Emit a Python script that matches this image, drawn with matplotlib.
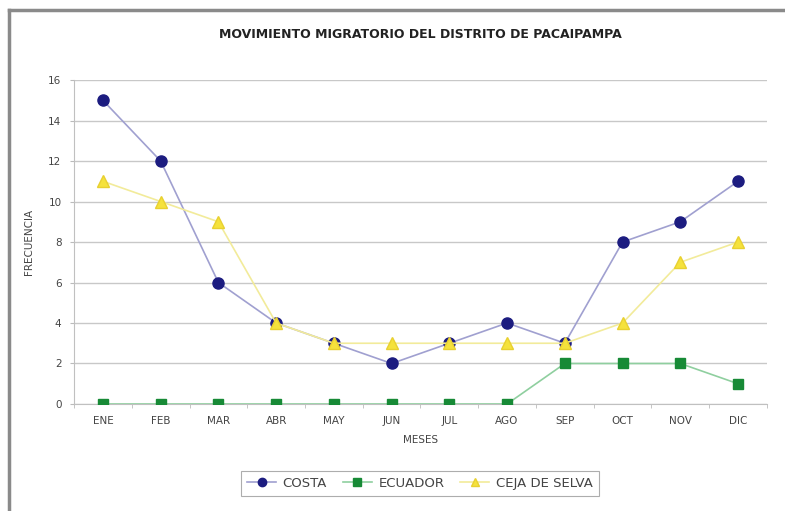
import matplotlib.pyplot as plt
from matplotlib.lines import Line2D

# ----------------------------------- DATA ----------------------------------- #
meses = ["ENE", "FEB", "MAR", "ABR", "MAY", "JUN", "JUL", "AGO", "SEP", "OCT", "NOV", "DIC"]
costa = [15, 12, 6, 4, 3, 2, 3, 4, 3, 8, 9, 11]
ecuador = [0, 0, 0, 0, 0, 0, 0, 0, 2, 2, 2, 1]
ceja_selva = [11, 10, 9, 4, 3, 3, 3, 3, 3, 4, 7, 8]

# --------------------------------- PLOTTING --------------------------------- #
fig = plt.figure(figsize=(7.85, 5.11), dpi=100)
ax = fig.add_axes([0.0943, 0.2094, 0.8827, 0.634])

x = list(range(len(meses)))
ax.plot(x, costa, color="#a0a0d0", lw=1.2, marker="o", ms=8,
        mfc="#1c1c80", mec="#1c1c80", label="COSTA", zorder=3)
ax.plot(x, ecuador, color="#8fcf9f", lw=1.2, marker="s", ms=7.5,
        mfc="#178a36", mec="#178a36", label="ECUADOR", zorder=3)
ax.plot(x, ceja_selva, color="#f2eb9a", lw=1.2, marker="^", ms=8.5,
        mfc="#f5e23c", mec="#e8d030", label="CEJA DE SELVA", zorder=4)

ax.set_xlim(-0.5, len(meses) - 0.5)
ax.set_ylim(0, 16)
ax.set_yticks(range(0, 17, 2))
ax.set_xticks(x)
ax.set_xticklabels(meses)
ax.set_xticks([i + 0.5 for i in range(-1, len(meses))], minor=True)
ax.tick_params(axis="x", which="major", length=0, pad=9, labelsize=7.5, colors="#444444")
ax.tick_params(axis="x", which="minor", length=3, color="#bbbbbb")
ax.tick_params(axis="y", length=3, color="#bbbbbb", labelsize=7.5, labelcolor="#444444", pad=6)

ax.grid(axis="y", color="#c8c8c8", lw=1)
ax.set_axisbelow(True)
for side in ["top", "right"]:
    ax.spines[side].set_visible(False)
for side in ["left", "bottom"]:
    ax.spines[side].set_color("#c0c0c0")

ax.set_xlabel("MESES", fontsize=7.5, color="#444444", labelpad=6)
ax.set_ylabel("FRECUENCIA", fontsize=7.5, color="#444444", labelpad=10)

fig.text(0.535, 0.932, "MOVIMIENTO MIGRATORIO DEL DISTRITO DE PACAIPAMPA",
         ha="center", va="center", fontsize=9, fontweight="bold", color="#222222")

leg = fig.legend(loc="center", bbox_to_anchor=(0.535, 0.054), ncol=3, fontsize=9.5,
                 frameon=True, fancybox=False, handlelength=2.2, columnspacing=1.2,
                 handletextpad=0.5, borderpad=0.45, markerscale=0.75)
leg.get_frame().set_edgecolor("#999999")
leg.get_frame().set_linewidth(0.8)
for t in leg.get_texts():
    t.set_color("#444444")

# outer frame (only left and top visible)
fig.add_artist(Line2D([0.0115, 0.0115], [0, 0.98], transform=fig.transFigure,
                      color="#8a8a8a", lw=2.5))
fig.add_artist(Line2D([0.0115, 1.0], [0.98, 0.98], transform=fig.transFigure,
                      color="#8a8a8a", lw=2.5))

fig.savefig("out.png", dpi=100)
